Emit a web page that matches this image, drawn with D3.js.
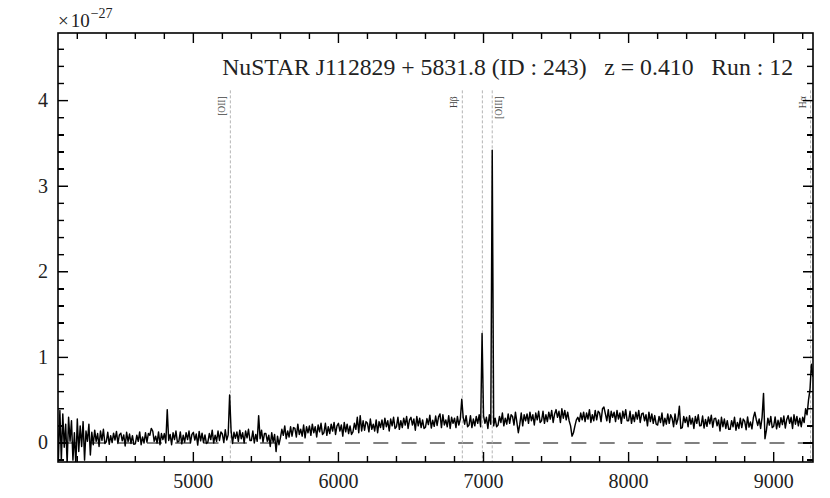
<!DOCTYPE html>
<meta charset="utf-8"/>
<html>
  <head>
    <script src="https://d3js.org/d3.v7.min.js"></script>
    <style>
      body { margin: 0; background: #fff; }
      svg { position: absolute; left: 0; top: 0; }
      text { font-family: 'Liberation Serif', 'DejaVu Serif', serif; }
      .tick { position: absolute; background: #000; }
    </style>
  </head>
  <body>
<script type="text/javascript">
// flux in units of 1e-27, sampled every 10 A starting at 4000 A (one row per 100 A)
var waveStart = 4000;
var waveStep = 10;
var flux = [
  0.1, -0.1, 0.2, -0.15, 0.25, -0.1, 0.3, -0.18, 0.38, -0.2,
  0.34, -0.05, 0.22, -0.24, 0.3, 0.02, 0.26, -0.2, 0.12, -0.26,
  0.28, -0.1, 0.2, -0.04, 0.25, -0.2, 0.14, 0.02, 0.22, -0.14,
  0.125, -0.02, 0.15, 0.02, 0.11, -0.04, 0.14, 0.03, 0.16, -0.005,
  0.015, 0.125, -0.015, 0.085, 0.005, 0.115, 0.035, 0.135, -0.005, 0.095,
  0.115, 0.025, 0.095, -0.035, 0.125, 0.015, 0.105, -0.005, 0.085, -0.015,
  -0.01, 0.09, 0.02, 0.13, -0.02, 0.07, 0.0, 0.12, 0.01, 0.11,
  0.09, 0.17, 0.14, 0.02, 0.08, 0.0, 0.13, -0.02, 0.11, 0.04,
  0.11, 0.0, 0.39, 0.03, 0.1, -0.02, 0.12, 0.04, 0.14, 0.01,
  0.02, 0.13, -0.01, 0.09, 0.01, 0.12, 0.04, 0.14, 0.0, 0.1,
  0.125, 0.035, 0.105, -0.025, 0.135, 0.025, 0.115, 0.005, 0.095, -0.005,
  0.01, 0.11, 0.04, 0.15, 0.0, 0.09, 0.02, 0.14, 0.03, 0.13,
  0.105, 0.005, 0.155, 0.035, 0.095, 0.56, 0.145, -0.005, 0.125, 0.055,
  0.13, 0.02, 0.15, 0.05, 0.12, 0.0, 0.14, 0.06, 0.16, 0.03,
  0.03, 0.14, 0.0, 0.1, 0.02, 0.32, 0.05, 0.15, 0.01, 0.11,
  0.11, 0.02, 0.09, -0.04, 0.12, 0.01, 0.1, -0.1, 0.08, -0.02,
  0.06, 0.16, 0.09, 0.2, 0.05, 0.14, 0.07, 0.19, 0.08, 0.18,
  0.17, 0.07, 0.22, 0.1, 0.16, 0.08, 0.21, 0.06, 0.19, 0.12,
  0.2, 0.09, 0.22, 0.12, 0.19, 0.07, 0.21, 0.13, 0.23, 0.1,
  0.12, 0.23, 0.09, 0.19, 0.11, 0.22, 0.14, 0.24, 0.1, 0.2,
  0.23, 0.14, 0.21, 0.08, 0.24, 0.13, 0.22, 0.11, 0.2, 0.1,
  0.13, 0.23, 0.16, 0.3, 0.12, 0.32, 0.14, 0.26, 0.15, 0.25,
  0.23, 0.13, 0.28, 0.16, 0.22, 0.14, 0.27, 0.12, 0.25, 0.18,
  0.27, 0.16, 0.29, 0.19, 0.26, 0.14, 0.28, 0.2, 0.3, 0.17,
  0.19, 0.3, 0.16, 0.26, 0.18, 0.29, 0.21, 0.31, 0.17, 0.27,
  0.3, 0.21, 0.28, 0.15, 0.31, 0.2, 0.29, 0.18, 0.27, 0.17,
  0.185, 0.285, 0.215, 0.325, 0.175, 0.265, 0.195, 0.315, 0.205, 0.305,
  0.34, 0.18, 0.33, 0.21, 0.27, 0.19, 0.32, 0.17, 0.3, 0.23,
  0.29, 0.18, 0.31, 0.21, 0.28, 0.51, 0.3, 0.22, 0.32, 0.19,
  0.21, 0.32, 0.18, 0.28, 0.2, 0.31, 0.23, 0.33, 0.19, 1.28,
  0.32, 0.23, 0.3, 0.17, 0.33, 0.22, 3.42, 0.2, 0.29, 0.19,
  0.21, 0.31, 0.24, 0.35, 0.2, 0.29, 0.22, 0.34, 0.23, 0.33,
  0.31, 0.21, 0.36, 0.24, 0.12, 0.22, 0.35, 0.2, 0.33, 0.26,
  0.34, 0.23, 0.36, 0.26, 0.33, 0.21, 0.35, 0.27, 0.37, 0.24,
  0.26, 0.37, 0.23, 0.33, 0.25, 0.36, 0.28, 0.38, 0.24, 0.34,
  0.39, 0.3, 0.37, 0.24, 0.4, 0.29, 0.38, 0.27, 0.36, 0.26,
  0.2, 0.08, 0.12, 0.2, 0.27, 0.3, 0.25, 0.35, 0.27, 0.36,
  0.25, 0.35, 0.28, 0.39, 0.24, 0.33, 0.26, 0.38, 0.27, 0.37,
  0.35, 0.25, 0.4, 0.42, 0.34, 0.26, 0.39, 0.24, 0.37, 0.3,
  0.36, 0.25, 0.38, 0.28, 0.35, 0.23, 0.37, 0.29, 0.39, 0.26,
  0.26, 0.37, 0.23, 0.33, 0.25, 0.36, 0.28, 0.38, 0.24, 0.34,
  0.35, 0.26, 0.33, 0.2, 0.36, 0.25, 0.34, 0.23, 0.32, 0.22,
  0.21, 0.31, 0.24, 0.35, 0.2, 0.29, 0.22, 0.34, 0.23, 0.33,
  0.29, 0.19, 0.34, 0.22, 0.28, 0.43, 0.17, 0.18, 0.31, 0.24,
  0.3, 0.19, 0.32, 0.22, 0.29, 0.17, 0.31, 0.23, 0.33, 0.2,
  0.205, 0.315, 0.175, 0.275, 0.195, 0.305, 0.225, 0.325, 0.185, 0.285,
  0.29, 0.2, 0.27, 0.14, 0.3, 0.19, 0.28, 0.17, 0.26, 0.16,
  0.16, 0.26, 0.19, 0.3, 0.15, 0.24, 0.17, 0.29, 0.18, 0.28,
  0.255, 0.155, 0.305, 0.185, 0.245, 0.165, 0.295, 0.36, 0.275, 0.205,
  0.28, 0.17, 0.3, 0.58, 0.05, 0.15, 0.29, 0.21, 0.31, 0.18,
  0.195, 0.305, 0.165, 0.265, 0.185, 0.295, 0.215, 0.315, 0.175, 0.275,
  0.32, 0.23, 0.3, 0.17, 0.33, 0.22, 0.31, 0.2, 0.29, 0.19,
  0.3, 0.24, 0.4, 0.33, 0.5, 0.62, 0.92, 0.78, 0.85, 0.9
];
// observed wavelengths of the marked emission lines (z = 0.410)
var lineWaves = [5255, 6854, 6992, 7060, 9254];
var lineNames = ['[OII]', 'Hβ', '', '[OIII]', 'Hα'];
var xTicks = [5000, 6000, 7000, 8000, 9000];
var yTicks = [0, 1, 2, 3, 4];
var xDomain = [4067, 9271];
var yDomain = [-0.222, 4.79];
var titleText = 'NuSTAR J112829 + 5831.8 (ID : 243)\u00a0\u00a0\u00a0z = 0.410\u00a0\u00a0\u00a0Run : 12';

var margin = {top: 33, right: 17, bottom: 36, left: 58};
var width = 830 - margin.left - margin.right;
var height = 498 - margin.top - margin.bottom;

var svg = d3.select('body').append('svg')
    .attr('width', 830)
    .attr('height', 498);
var g = svg.append('g')
    .attr('transform', 'translate(' + margin.left + ',' + margin.top + ')');

var x = d3.scaleLinear().domain(xDomain).range([0, width]);
var y = d3.scaleLinear().domain(yDomain).range([height, 0]);

var spectrum = flux.map(function(f, i) { return [waveStart + i * waveStep, f]; });

g.append('clipPath').attr('id', 'clip')
  .append('rect').attr('width', width).attr('height', height);

var plot = g.append('g').attr('clip-path', 'url(#clip)');

// zero level
plot.append('line')
    .attr('x1', x(xDomain[0])).attr('x2', x(xDomain[1]))
    .attr('y1', y(0)).attr('y2', y(0))
    .attr('stroke', '#808080')
    .attr('stroke-width', 2)
    .attr('stroke-dasharray', '15,13.3')
    .attr('stroke-dashoffset', 24.3);

// emission line markers
plot.selectAll('.eline')
    .data(lineWaves)
    .enter().append('line')
    .attr('class', 'eline')
    .attr('x1', function(d) { return x(d); })
    .attr('x2', function(d) { return x(d); })
    .attr('y1', y(4.12))
    .attr('y2', height)
    .attr('stroke', '#b4b4b4')
    .attr('stroke-width', 1)
    .attr('stroke-dasharray', '3,2');

var line = d3.line()
    .x(function(d) { return x(d[0]); })
    .y(function(d) { return y(d[1]); });

plot.append('path')
    .attr('d', line(spectrum))
    .attr('fill', 'none')
    .attr('stroke', '#000')
    .attr('stroke-width', 1.45)
    .attr('stroke-linejoin', 'round');

// labels of lines, rotated
lineWaves.forEach(function(w, i) {
  if (!lineNames[i]) return;
  var dx = lineNames[i] == '[OIII]' ? 7 : -8;
  g.append('text')
      .attr('transform', 'translate(' + (x(w) + dx) + ',' + (y(4.12) + 6) + ') rotate(-90)')
      .attr('text-anchor', 'end')
      .attr('dominant-baseline', 'central')
      .attr('font-size', 9.5)
      .attr('fill', '#444')
      .text(lineNames[i]);
});

g.append('g').selectAll('text')
    .data(xTicks)
    .enter().append('text')
    .attr('x', function(d) { return x(d); })
    .attr('y', height + 26)
    .attr('text-anchor', 'middle')
    .attr('font-size', 20)
    .attr('fill', '#222')
    .text(function(d) { return d; });

g.append('g').selectAll('text')
    .data(yTicks)
    .enter().append('text')
    .attr('x', -10)
    .attr('y', function(d) { return y(d) + 6.5; })
    .attr('text-anchor', 'end')
    .attr('font-size', 20)
    .attr('fill', '#222')
    .text(function(d) { return d; });

g.append('rect')
    .attr('width', width)
    .attr('height', height)
    .attr('fill', 'none')
    .attr('stroke', '#000')
    .attr('stroke-width', 1.6);

// offset text
var expo = svg.append('text')
    .attr('x', margin.left)
    .attr('y', 27)
    .attr('fill', '#222')
    .attr('font-size', 19);
expo.append('tspan').text('×');
expo.append('tspan').attr('dx', 2).text('10');
expo.append('tspan').attr('font-size', 14).attr('dx', 1).attr('dy', -9).text('−27');

// title, fitted to the reference width
var title = svg.append('text')
    .attr('x', 793)
    .attr('y', 75)
    .attr('text-anchor', 'end')
    .attr('fill', '#222')
    .attr('font-size', 17)
    .text(titleText);
var tw = title.node().getComputedTextLength();
title.attr('font-size', 17 * 571 / tw);

// inward ticks on all four sides, in their own overlay svg
var xMinor = d3.range(4200, 9300, 200).filter(function(v) { return v % 1000 != 0; });
var yMinor = d3.range(-0.2, 4.8, 0.2).filter(function(v) { return Math.abs(v - Math.round(v)) > 0.01; });
var tickW = 1.4;
var tickBoxes = [];
xTicks.forEach(function(v) { tickBoxes.push({x: x(v) - tickW / 2, y: height - 10, w: tickW, h: 10}, {x: x(v) - tickW / 2, y: 0, w: tickW, h: 10}); });
xMinor.forEach(function(v) { tickBoxes.push({x: x(v) - tickW / 2, y: height - 6, w: tickW, h: 6}, {x: x(v) - tickW / 2, y: 0, w: tickW, h: 6}); });
yTicks.forEach(function(v) { tickBoxes.push({x: 0, y: y(v) - tickW / 2, w: 10, h: tickW}, {x: width - 10, y: y(v) - tickW / 2, w: 10, h: tickW}); });
yMinor.forEach(function(v) { tickBoxes.push({x: 0, y: y(v) - tickW / 2, w: 6, h: tickW}, {x: width - 6, y: y(v) - tickW / 2, w: 6, h: tickW}); });

var overlay = d3.select('body').append('svg')
    .attr('width', 830)
    .attr('height', 498)
    .style('pointer-events', 'none');
overlay.append('g')
    .attr('transform', 'translate(' + margin.left + ',' + margin.top + ')')
    .selectAll('rect')
    .data(tickBoxes)
    .enter().append('rect')
    .attr('x', function(d) { return d.x; })
    .attr('y', function(d) { return d.y; })
    .attr('width', function(d) { return d.w; })
    .attr('height', function(d) { return d.h; })
    .attr('fill', '#000');

// same ticks as plain html boxes, in case the svg ones are not painted
d3.select('body').selectAll('div.tick')
    .data(tickBoxes)
    .enter().append('div')
    .attr('class', 'tick')
    .style('left', function(d) { return (margin.left + d.x) + 'px'; })
    .style('top', function(d) { return (margin.top + d.y) + 'px'; })
    .style('width', function(d) { return d.w + 'px'; })
    .style('height', function(d) { return d.h + 'px'; });
</script>
  </body>
</html>
